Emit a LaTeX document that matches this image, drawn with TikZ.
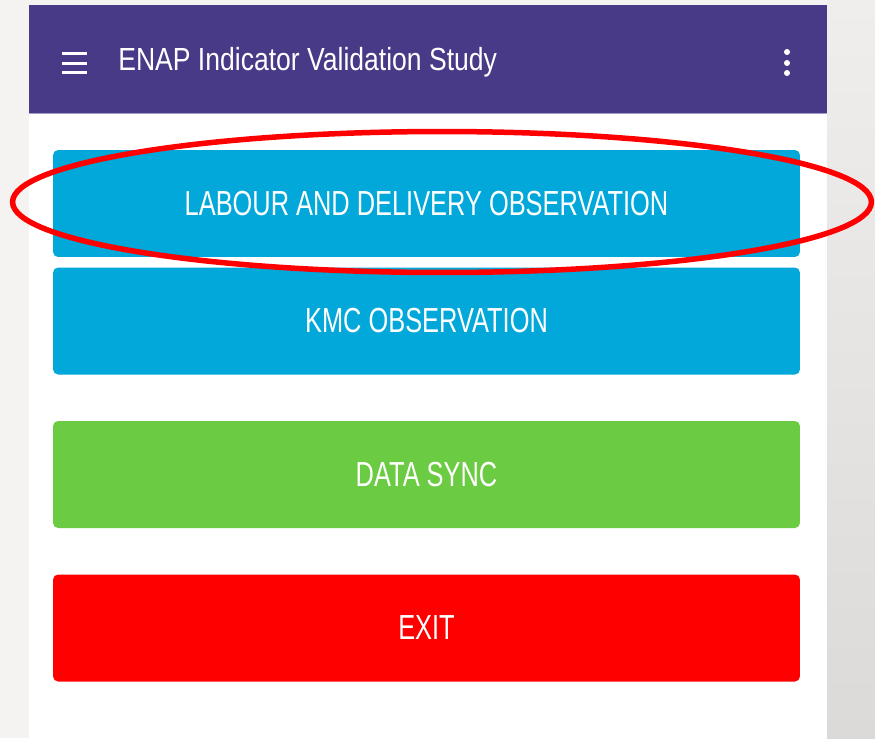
\documentclass[tikz,border=0pt]{standalone}
\usepackage{fontspec}
\usetikzlibrary{shapes.geometric}
\newfontfamily\titlefont[FakeStretch=0.83]{Liberation Sans}
\newfontfamily\btnfont[FakeStretch=0.73]{Liberation Sans}
\definecolor{pagebg}{HTML}{F4F3F2}
\definecolor{edgetop}{HTML}{F0EEED}
\definecolor{edgebot}{HTML}{DCDAD9}
\definecolor{barpurple}{HTML}{483A87}
\definecolor{barline}{HTML}{A49BCB}
\definecolor{btnblue}{HTML}{02A8D9}
\definecolor{btngreen}{HTML}{6BCB43}
\definecolor{btnred}{HTML}{FE0000}
\definecolor{markred}{HTML}{FF0000}
\tikzset{
  menubtn/.style={rectangle, rounded corners=0.1cm, inner sep=0pt,
    minimum width=14.94cm, minimum height=2.14cm, text=white,
    font=\btnfont\fontsize{19.8pt}{22pt}\selectfont},
  hambar/.style={fill=white},
  kebabdot/.style={circle, fill=white, inner sep=0pt, minimum size=0.12cm},
  highlight/.style={ellipse, draw=markred, line width=0.11cm, inner sep=0pt,
    minimum width=17.18cm, minimum height=2.82cm}
}
\begin{document}
\begin{tikzpicture}[x=0.02cm, y=-0.02cm]
\useasboundingbox (0,0) rectangle (875,738);
% page background
\fill[pagebg] (0,0) rectangle (875,738);
\shade[top color=edgetop, bottom color=edgebot] (827,0) rectangle (875,738);
% app panel and title bar
\fill[white] (29,113) rectangle (827,738);
\fill[barpurple] (29,5) rectangle (827,113);
\draw[barline, line width=0.02cm] (29,113) -- (827,113);
% hamburger menu
\fill[hambar] (62,51.5) rectangle (87,54.5);
\fill[hambar] (62,61.5) rectangle (87,64.5);
\fill[hambar] (62,70.5) rectangle (87,73.5);
% overflow menu
\node[kebabdot] (dot1) at (787,52) {};
\node[kebabdot] (dot2) at (787,63) {};
\node[kebabdot] (dot3) at (787,73) {};
% title
\node[anchor=base west, inner sep=0pt, text=white,
  font=\titlefont\fontsize{18.2pt}{20pt}\selectfont] (title) at (118,70)
  {ENAP Indicator Validation Study};
% menu buttons
\node[menubtn, fill=btnblue] (labour) at (426.5,203.5) {LABOUR AND DELIVERY OBSERVATION};
\node[menubtn, fill=btnblue] (kmc) at (426.5,321) {KMC OBSERVATION};
\node[menubtn, fill=btngreen] (sync) at (426.5,474.5) {DATA SYNC};
\node[menubtn, fill=btnred] (exit) at (426.5,628) {EXIT};
% red ring around the first option
\node[highlight] (ring) at (442,202) {};
\end{tikzpicture}
\end{document}
